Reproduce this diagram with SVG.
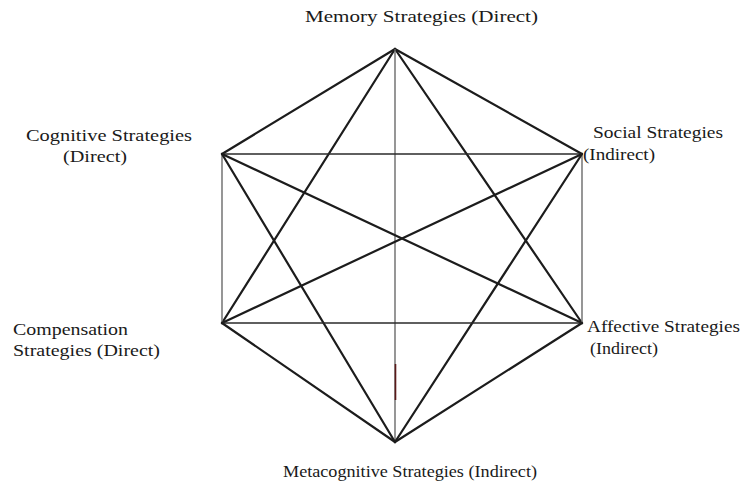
<svg xmlns="http://www.w3.org/2000/svg" width="743" height="482" viewBox="0 0 743 482">
<style>
.bg{fill:#fff}
.d{stroke:#1c1c1c;stroke-width:2.2;fill:none;stroke-linecap:round}
.h{stroke:#2a2a2a;stroke-width:1.4;fill:none}
.v{stroke:#6a6a6a;stroke-width:1.4;fill:none}
text{font-family:"Liberation Serif","Times New Roman",serif;font-size:17px;fill:#1a1a1a}
</style>
<rect class="bg" x="0" y="0" width="743" height="482"/>
<g id="connectors">
<line class="d" x1="395" y1="49" x2="222" y2="154"/>
<line class="d" x1="395" y1="49" x2="582" y2="154"/>
<line class="d" x1="395" y1="49" x2="222" y2="323"/>
<line class="d" x1="395" y1="49" x2="582" y2="323"/>
<line class="v" x1="395" y1="49" x2="395" y2="442"/>
<line class="h" x1="222" y1="154" x2="582" y2="154"/>
<line class="v" x1="222" y1="154" x2="222" y2="323"/>
<line class="d" x1="222" y1="154" x2="582" y2="323"/>
<line class="d" x1="222" y1="154" x2="395" y2="442"/>
<line class="d" x1="582" y1="154" x2="222" y2="323"/>
<line class="v" x1="582" y1="154" x2="582" y2="323"/>
<line class="d" x1="582" y1="154" x2="395" y2="442"/>
<line class="h" x1="222" y1="323" x2="582" y2="323"/>
<line class="d" x1="222" y1="323" x2="395" y2="442"/>
<line class="d" x1="582" y1="323" x2="395" y2="442"/>
<line stroke="#5a1a1a" stroke-width="1.6" x1="395.5" y1="364" x2="395.5" y2="400"/>
</g>
<g id="memory"><text x="305" y="22" textLength="233" lengthAdjust="spacingAndGlyphs">Memory Strategies (Direct)</text></g>
<g id="cognitive"><text x="26" y="141" textLength="166" lengthAdjust="spacingAndGlyphs">Cognitive  Strategies</text><text x="63" y="162" textLength="64" lengthAdjust="spacingAndGlyphs">(Direct)</text></g>
<g id="social"><text x="593" y="138" textLength="130" lengthAdjust="spacingAndGlyphs">Social Strategies</text><text x="583" y="160" textLength="72" lengthAdjust="spacingAndGlyphs">(Indirect)</text></g>
<g id="compensation"><text x="13" y="335" textLength="115" lengthAdjust="spacingAndGlyphs">Compensation</text><text x="13" y="356" textLength="147" lengthAdjust="spacingAndGlyphs">Strategies (Direct)</text></g>
<g id="affective"><text x="587" y="332" textLength="153" lengthAdjust="spacingAndGlyphs">Affective Strategies</text><text x="590" y="354" textLength="68" lengthAdjust="spacingAndGlyphs">(Indirect)</text></g>
<g id="metacognitive"><text x="283" y="477" textLength="254" lengthAdjust="spacingAndGlyphs">Metacognitive Strategies (Indirect)</text></g>
</svg>
